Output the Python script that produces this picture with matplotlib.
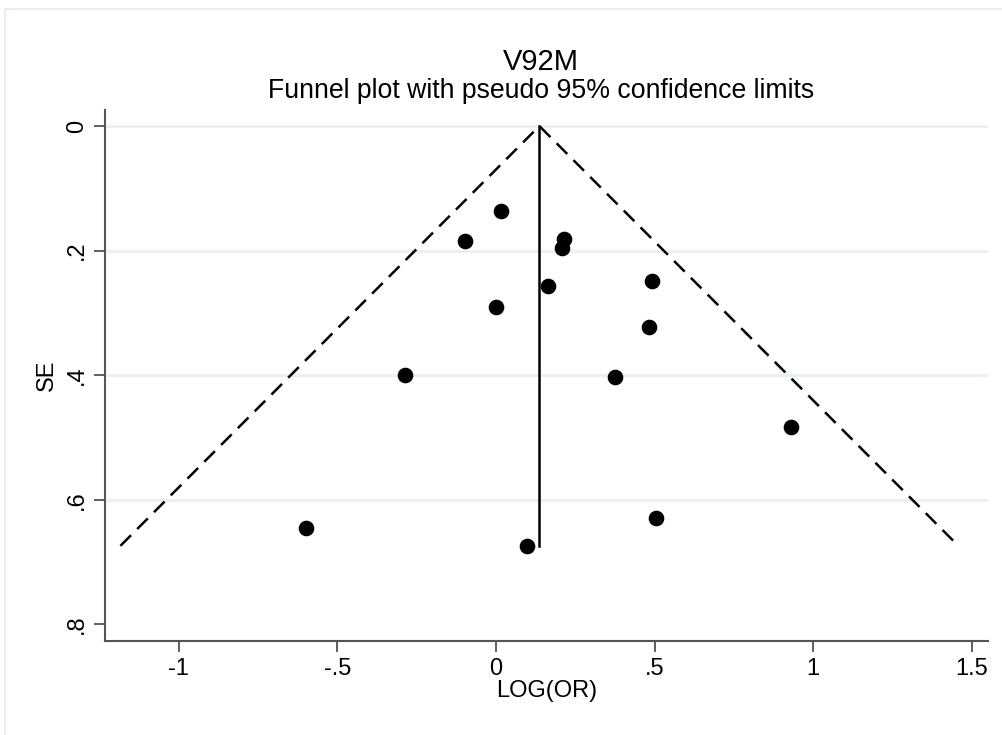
import numpy as np
import matplotlib
matplotlib.use("Agg")
import matplotlib.pyplot as plt
from matplotlib.patches import Rectangle

plt.rcParams['font.family'] = ['Liberation Sans', 'DejaVu Sans']

# study estimates: log odds ratio and its standard error
log_or = [0.015, -0.099, 0.215, 0.209, 0.001, 0.164, 0.492, 0.482,
          -0.287, 0.375, 0.930, -0.599, 0.504, 0.098]
se = [0.136, 0.185, 0.182, 0.196, 0.290, 0.257, 0.249, 0.323,
      0.400, 0.403, 0.483, 0.645, 0.629, 0.674]
pooled = 0.1366

x_ticks = [-1, -0.5, 0, 0.5, 1, 1.5]
x_tick_labels = ["-1", "-.5", "0", ".5", "1", "1.5"]
y_ticks = [0, 0.2, 0.4, 0.6, 0.8]
y_tick_labels = ["0", ".2", ".4", ".6", ".8"]

fig = plt.figure(figsize=(10.02, 7.35), dpi=100)
# light outline around the graph region
fig.patches.append(Rectangle((5 / 1002, -0.05), 1.1, 1 - 9 / 735 + 0.05,
                             transform=fig.transFigure, fill=False,
                             edgecolor='#e6eef0', linewidth=1.5))
ax = fig.add_axes([0.1045, 0.1279, 0.8818, 0.7224])

for y in y_ticks[:-1]:
    ax.axhline(y, color='#e8f0f2', linewidth=2, zorder=0)

# pseudo 95% limits and the pooled estimate
se_max = max(se)
ax.plot([pooled - 1.96 * se_max, pooled, pooled + 1.96 * se_max],
        [se_max, 0, se_max], color='black', linewidth=1.8,
        linestyle=(0, (6, 3.5)), zorder=2)
ax.plot([pooled, pooled], [0, se_max], color='black', linewidth=1.8, zorder=2)
ax.scatter(log_or, se, s=105, color='black', zorder=3)

ax.set_xlim(-1.234, 1.552)
ax.set_ylim(0.8268, -0.0257)
ax.set_xticks(x_ticks)
ax.set_xticklabels(x_tick_labels)
ax.set_yticks(y_ticks)
ax.set_yticklabels(y_tick_labels, rotation=90, va='center')
ax.tick_params(axis='both', direction='out', length=8, width=1.2,
               color='#444444', labelsize=17, pad=4)

for side in ['top', 'right']:
    ax.spines[side].set_visible(False)
for side in ['left', 'bottom']:
    ax.spines[side].set_color('#555555')
    ax.spines[side].set_linewidth(1.5)

ax.set_xlabel("LOG(OR)", fontsize=17, labelpad=0)
ax.set_ylabel("SE", fontsize=17, labelpad=6)

fig.text(0.5395, 1 - 62 / 735, "V92M", ha='center', va='center', fontsize=21)
fig.text(0.5395, 1 - 91 / 735, "Funnel plot with pseudo 95% confidence limits",
         ha='center', va='center', fontsize=19.2)

fig.savefig("out.png", dpi=100)
